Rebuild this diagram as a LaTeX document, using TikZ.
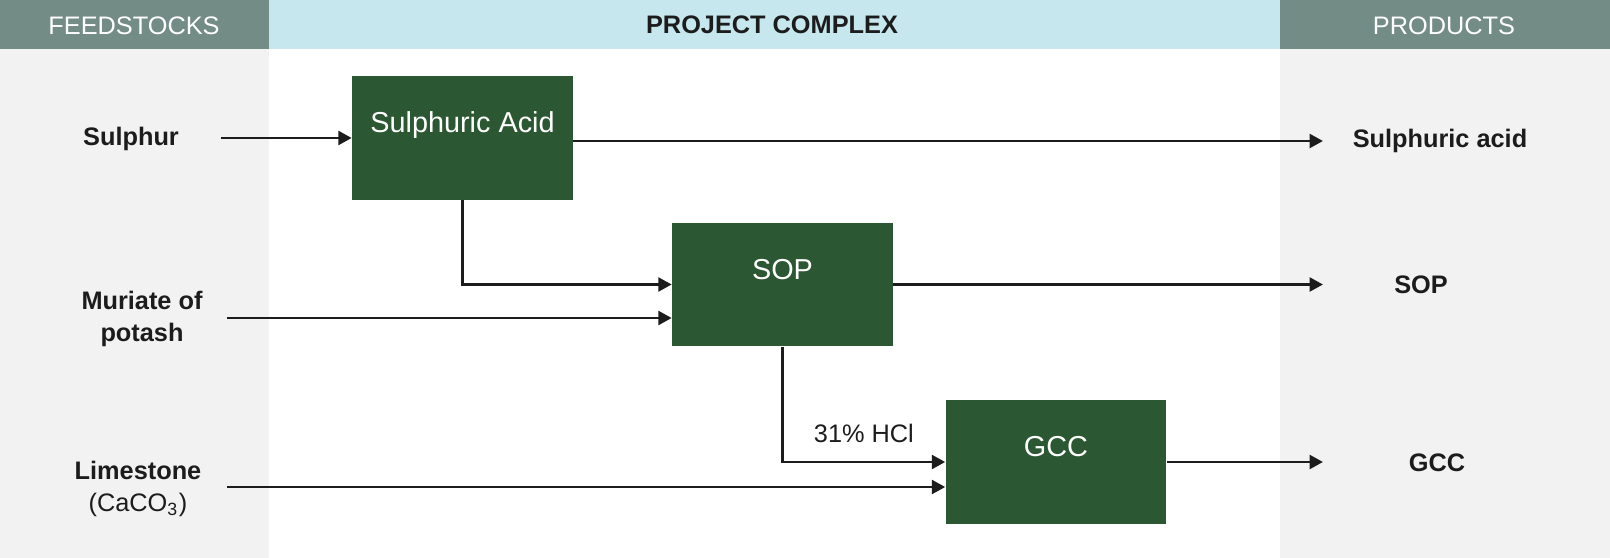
\documentclass[tikz,border=0pt]{standalone}
\usepackage{fontspec}
\setmainfont{Liberation Sans}
\usetikzlibrary{arrows.meta}
\definecolor{headgrey}{HTML}{748C86}
\definecolor{headblue}{HTML}{C6E7EE}
\definecolor{sidegrey}{HTML}{F2F2F2}
\definecolor{unitgreen}{HTML}{2B5733}
\definecolor{inkgrey}{HTML}{1C1C1C}
\tikzset{
    > = {Triangle[length=3.8pt, width=3.9pt]},
    flow/.style = {->, line width=0.85pt, draw=inkgrey},
    unit/.style = {fill=unitgreen, text=white, minimum width=2.2cm, minimum height=1.23cm,
        inner sep=0pt, text height=6pt, text depth=9.1pt, font=\fontsize{8.2}{10}\selectfont},
    feed/.style = {text=inkgrey, align=center, font=\fontsize{7.2}{9.2}\selectfont\bfseries},
    head/.style = {font=\fontsize{7.2}{8.6}\selectfont}
}

\begin{document}
\begin{tikzpicture}[x=0.01cm, y=-0.01cm]
    % columns and header band
    \fill[white] (0,0) rectangle (1610,558);
    \fill[sidegrey] (0,0) rectangle (269,558);
    \fill[sidegrey] (1280,0) rectangle (1610,558);
    \fill[headgrey] (0,0) rectangle (269,49);
    \fill[headblue] (269,0) rectangle (1280,49);
    \fill[headgrey] (1280,0) rectangle (1610,49);

    \node[head, text=white] (feedhead) at (134,26) {FEEDSTOCKS};
    \node[head, text=inkgrey, font=\fontsize{7.2}{8.6}\selectfont\bfseries] (projhead) at (772,25) {PROJECT COMPLEX};
    \node[head, text=white] (prodhead) at (1444,26) {PRODUCTS};

    % plant units
    \node[unit] (acid) at (462.5,138) {Sulphuric Acid};
    \node[unit] (sop) at (782.5,284.5) {SOP};
    \node[unit] (gcc) at (1056,462) {GCC};

    % feedstocks
    \node[feed] (sulphur) at (131,139) {Sulphur};
    \node[feed] (muriate) at (142,319) {Muriate of\\potash};
    \node[feed] (limestone) at (138,489) {Limestone\\{\mdseries (CaCO\textsubscript{3})}};

    % products
    \node[feed] (acidprod) at (1440,141) {Sulphuric acid};
    \node[feed] (sopprod) at (1421,285) {SOP};
    \node[feed] (gccprod) at (1437,463) {GCC};

    \coordinate (sulphurin) at (221,138);
    \coordinate (muriatein) at (227,318);
    \coordinate (limein) at (227,487);
    \coordinate (acidout) at (1323,141);
    \coordinate (sopout) at (1323,284.5);
    \coordinate (gccout) at (1323,462);

    \draw[flow] (sulphurin) -- (acid.west);
    \draw[flow] (acid.east |- acidout) -- (acidout);
    \draw[flow] (acid.south) |- (sop.west);
    \draw[flow] (muriatein) -- (sop.west |- muriatein);
    \draw[flow] (sop.east) -- (sopout);
    \draw[flow] (sop.south) |- node[pos=0.75, above=1.8pt, text=inkgrey, font=\fontsize{7.2}{8.6}\selectfont]{31\% HCl} (gcc.west);
    \draw[flow] (limein) -- (gcc.west |- limein);
    \draw[flow] (gcc.east) -- (gccout);
\end{tikzpicture}
\end{document}
